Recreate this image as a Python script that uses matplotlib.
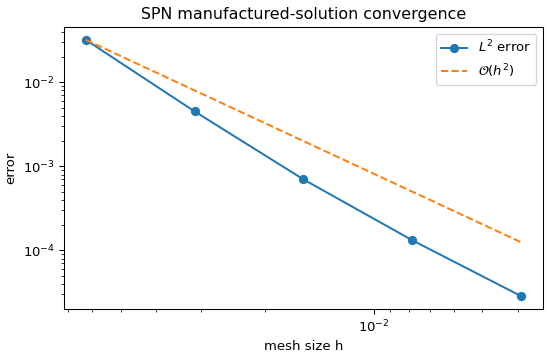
import numpy as np
import matplotlib
matplotlib.use("Agg")
import matplotlib.pyplot as plt

h = np.array([1/16, 1/32, 1/64, 1/128, 1/256])
err = np.array([3.2e-2, 4.5e-3, 7.0e-4, 1.32e-4, 2.86e-5])

ref = err[0] * (h / h[0]) ** 2

dpi = 95
fig = plt.figure(figsize=(550 / dpi, 358 / dpi), dpi=dpi)
ax = fig.add_axes([64/550, 1 - 309/358, (543 - 64)/550, (309 - 27)/358])
ax.loglog(h, err, 'o-', label=r'$L^2$ error')
ax.loglog(h, ref, '--', label=r'$\mathcal{O}(h^2)$')
ax.invert_xaxis()
ax.set_xlabel('mesh size h')
ax.set_ylabel('error')
ax.set_title('SPN manufactured-solution convergence')
ax.legend(loc='upper right')
fig.savefig('out.png', dpi=dpi)
